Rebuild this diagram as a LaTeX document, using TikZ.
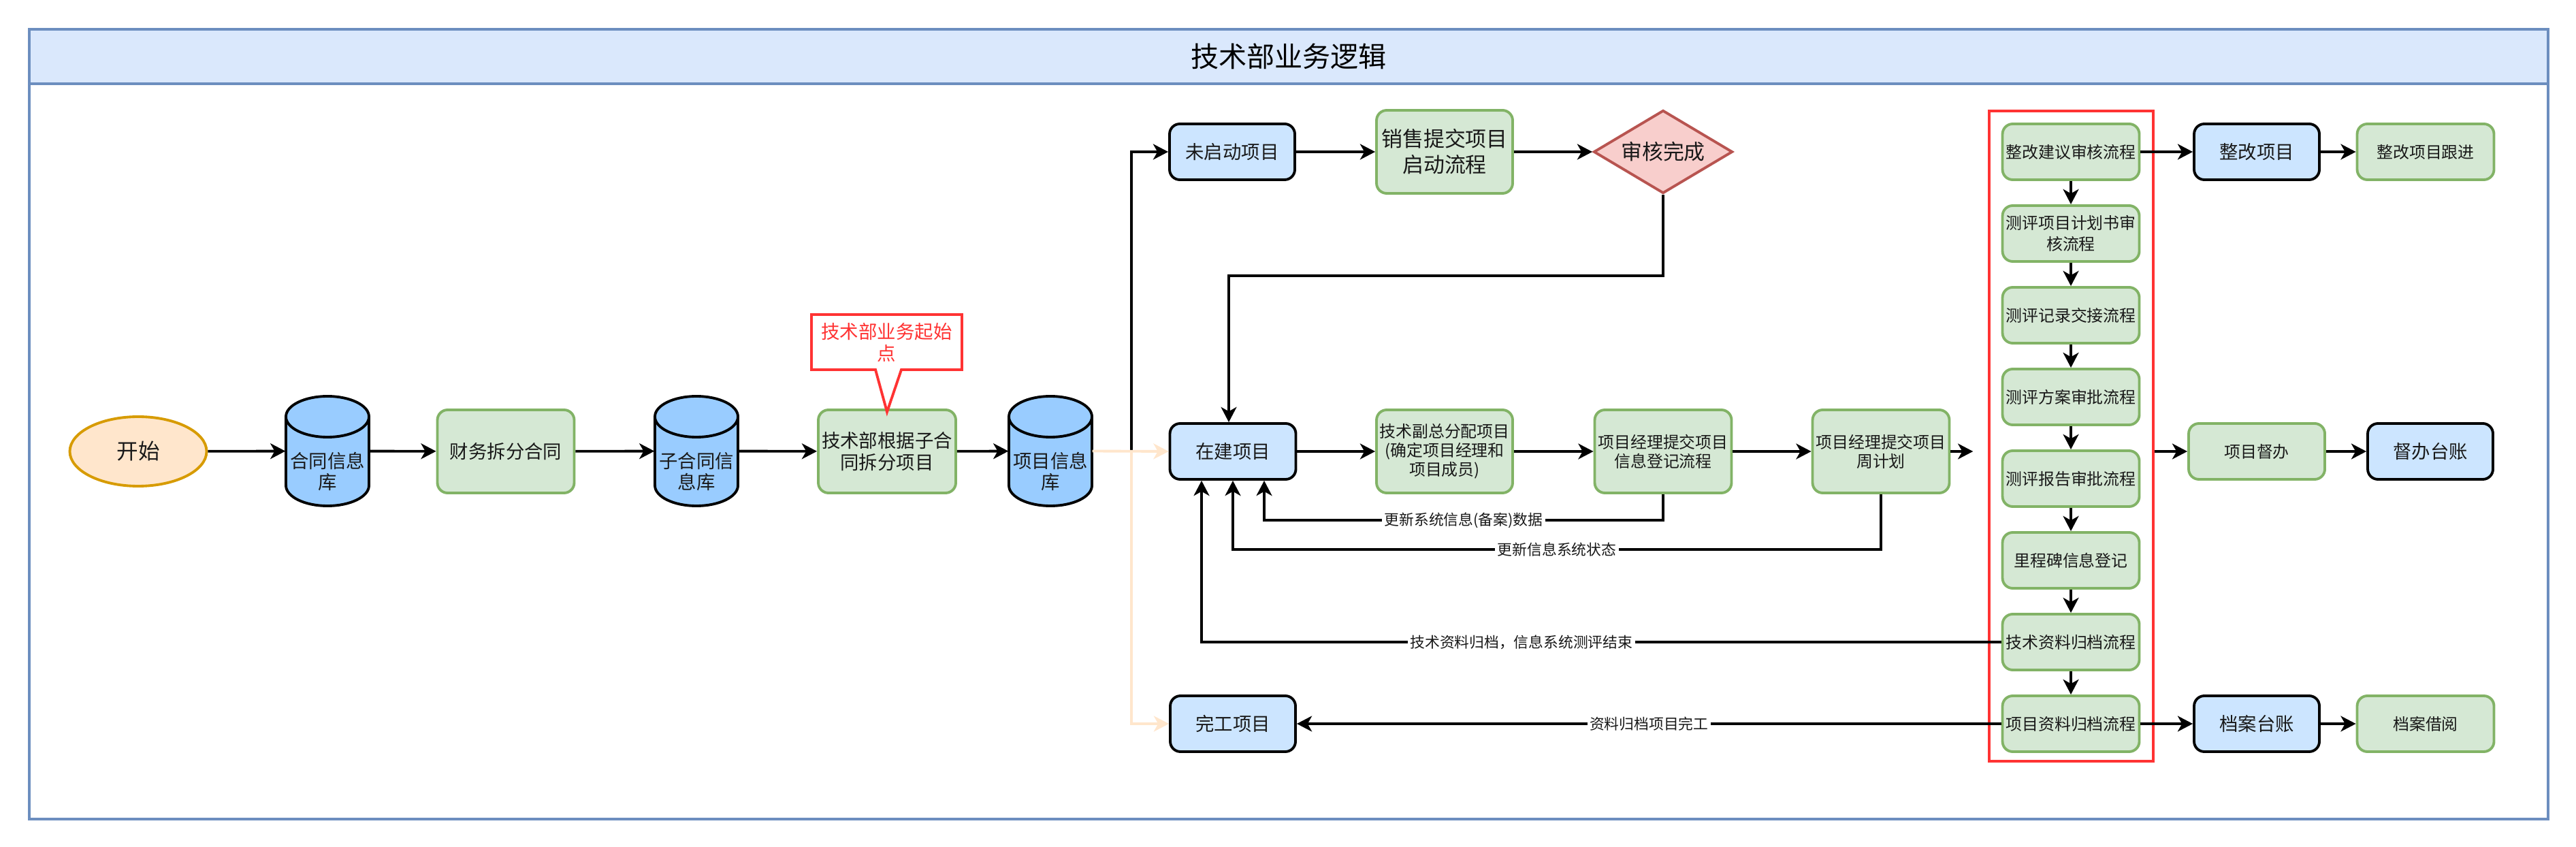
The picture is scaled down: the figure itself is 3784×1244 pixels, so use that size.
\documentclass[tikz,border=0pt]{standalone}
\usepackage{fontspec}
\setmainfont{Noto Sans CJK SC}
\usetikzlibrary{arrows.meta,shapes.geometric}
\definecolor{gfill}{HTML}{D5E8D4}
\definecolor{gline}{HTML}{82B366}
\definecolor{bfill}{HTML}{CCE5FF}
\definecolor{cylf}{HTML}{99CCFF}
\definecolor{ofill}{HTML}{FFE6CC}
\definecolor{oline}{HTML}{D79B00}
\definecolor{rfill}{HTML}{F8CECC}
\definecolor{rline}{HTML}{B85450}
\definecolor{redc}{HTML}{FF3333}
\definecolor{tfill}{HTML}{DAE8FC}
\definecolor{tline}{HTML}{6C8EBF}
\newcommand\sza{\fontsize{6.8pt}{8pt}\selectfont}
\newcommand\szb{\fontsize{7.8pt}{9pt}\selectfont}
\newcommand\szc{\fontsize{8.8pt}{10.8pt}\selectfont}
\newcommand\szl{\fontsize{6.2pt}{7pt}\selectfont}
\newcommand\szs{\fontsize{9pt}{11pt}\selectfont}
\newcommand\szt{\fontsize{11.7pt}{14pt}\selectfont}
\tikzset{
  proc/.style={rectangle, rounded corners=1.5mm, line width=1.1pt, inner sep=0pt, align=center, text=black!90},
  gbox/.style={proc, fill=gfill, draw=gline, minimum width=20.1mm, minimum height=8.2mm, font=\sza},
  gtall/.style={gbox, minimum height=12.2mm},
  bbox/.style={proc, fill=bfill, draw=black, minimum width=18.4mm, minimum height=8.2mm, font=\szb},
  conn/.style={line width=1.1pt, draw=black, -{Stealth[length=6.3pt,width=6.5pt,inset=1.8pt]}},
  oconn/.style={conn, draw=ofill},
  lbl/.style={fill=white, inner sep=1pt, font=\szl, text=black!90},
  cylline/.style={draw=black, line width=1.1pt},
}
\newcommand\dbcyl[4]{%
  \node[minimum width=12.2mm, minimum height=16.1mm, inner sep=0pt] (#1) at (#2,#3) {};
  \fill[cylf] (#2-61,#3-50.5) rectangle (#2+61,#3+50.5);
  \fill[cylf] (#2,#3+50.5) ellipse[x radius=6.1mm, y radius=3mm];
  \begin{scope}
    \clip (#2-70,#3+50.5) rectangle (#2+70,#3+95);
    \draw[cylline] (#2,#3+50.5) ellipse[x radius=6.1mm, y radius=3mm];
  \end{scope}
  \draw[cylline] (#2-61,#3-50.5) -- (#2-61,#3+50.5) (#2+61,#3-50.5) -- (#2+61,#3+50.5);
  \filldraw[fill=cylf, cylline] (#2,#3-50.5) ellipse[x radius=6.1mm, y radius=3mm];
  \node[font=\szb, align=center, text=black!90] at (#2,#3+30) {#4};
}
\begin{document}
\begin{tikzpicture}[x=0.1mm,y=-0.1mm]
\useasboundingbox (0,0) rectangle (3784,1244);
\fill[white] (0,0) rectangle (3784,1244);
% container
\draw[tline, line width=1.1pt] (43,43) rectangle (3743,1203);
\filldraw[fill=tfill, draw=tline, line width=1.1pt] (43,43) rectangle (3743,123);
\node[font=\szt] (title) at (1893,83) {技术部业务逻辑};

% red group frame
\node[draw=redc, line width=1pt, minimum width=24.1mm, minimum height=95.5mm, inner sep=0pt] (grp) at (3042.5,640.5) {};

% main row
\node[ellipse, fill=ofill, draw=oline, line width=1.1pt, minimum width=20.1mm, minimum height=10.2mm, inner sep=0pt, font=\szs, text=black!90] (start) at (203,663) {开始};
\dbcyl{db1}{481}{662.5}{合同信息\\库}
\node[gtall, font=\szb] (split) at (743,663) {财务拆分合同};
\dbcyl{db2}{1023}{662.5}{子合同信\\息库}
\node[gtall, minimum width=20.2mm, font=\szb] (tsplit) at (1303,663) {技术部根据子合\\同拆分项目};
\filldraw[fill=white, draw=redc, line width=1.1pt] (1192,462) -- (1413,462) -- (1413,543) -- (1324,543) -- (1303,605) -- (1286,543) -- (1192,543) -- cycle;
\node[font=\szb, text=redc, align=center] (callout) at (1302.5,503) {技术部业务起始\\点};
\dbcyl{db3}{1543}{662.5}{项目信息\\库}

\node[bbox] (notstart) at (1810,223) {未启动项目};
\node[gtall, minimum width=20mm, font=\szc] (sales) at (2122,223) {销售提交项目\\启动流程};
\node[diamond, aspect=1.67, fill=rfill, draw=rline, line width=1.1pt, minimum width=20.4mm, minimum height=12.2mm, inner sep=0pt, font=\szc, text=black!90] (audit) at (2443,223) {审核完成};

\node[bbox, minimum width=18.5mm] (building) at (1811,663) {在建项目};
\node[gtall, minimum width=20mm] (assign) at (2122,663) {技术副总分配项目\\(确定项目经理和\\项目成员)};
\node[gtall] (reg) at (2443,663) {项目经理提交项目\\信息登记流程};
\node[gtall] (weekly) at (2763,663) {项目经理提交项目\\周计划};
\node[bbox] (done) at (1811,1063) {完工项目};

% red column
\node[gbox] (c1) at (3042,223) {整改建议审核流程};
\node[gbox, font=\fontsize{6.8pt}{9pt}\selectfont] (c2) at (3042,343) {测评项目计划书审\\核流程};
\node[gbox] (c3) at (3042,463) {测评记录交接流程};
\node[gbox] (c4) at (3042,583) {测评方案审批流程};
\node[gbox] (c5) at (3042,703) {测评报告审批流程};
\node[gbox] (c6) at (3042,823) {里程碑信息登记};
\node[gbox] (c7) at (3042,943) {技术资料归档流程};
\node[gbox] (c8) at (3042,1063) {项目资料归档流程};

% right side
\node[bbox] (rect) at (3315,223) {整改项目};
\node[gbox] (rectf) at (3563,223) {整改项目跟进};
\node[gbox, minimum width=20mm] (sup) at (3315,663) {项目督办};
\node[bbox] (supl) at (3570,663) {督办台账};
\node[bbox] (arch) at (3315,1063) {档案台账};
\node[gbox] (borrow) at (3563,1063) {档案借阅};

% connectors
\draw[conn] (start) -- (db1);
\draw[conn] (db1) -- (split);
\draw[conn] (split) -- (db2);
\draw[conn] (db2) -- (tsplit);
\draw[conn] (tsplit) -- (db3);
\draw[conn] (db3.east) -- ++(57,0) |- (notstart.west);
\draw[oconn] (db3.east) -- (building.west);
\draw[oconn] (db3.east) -- ++(57,0) |- (done.west);
\draw[conn] (notstart) -- (sales);
\draw[conn] (sales) -- (audit);
\draw[conn] (audit.south) -- ++(0,119) -| ([xshift=-0.6mm]building.north);
\draw[conn] (building) -- (assign);
\draw[conn] (assign) -- (reg);
\draw[conn] (reg) -- (weekly);
\draw[conn, shorten >=2.2mm] (weekly.east) -- (weekly.east -| grp.west);
\draw[conn] (reg.south) -- ++(0,38) -| node[lbl,pos=0.25]{更新系统信息(备案)数据} ([xshift=4.6mm]building.south);
\draw[conn] (weekly.south) -- ++(0,81) -| node[lbl,pos=0.25]{更新信息系统状态} (building.south);
\draw[conn] (c7.west) -| node[lbl,pos=0.3]{技术资料归档，信息系统测评结束} ([xshift=-4.6mm]building.south);
\draw[conn] (c8.west) -- node[lbl]{资料归档项目完工} (done.east);
\draw[conn] (c1) -- (c2);
\draw[conn] (c2) -- (c3);
\draw[conn] (c3) -- (c4);
\draw[conn] (c4) -- (c5);
\draw[conn] (c5) -- (c6);
\draw[conn] (c6) -- (c7);
\draw[conn] (c7) -- (c8);
\draw[conn] (c1) -- (rect);
\draw[conn] (rect) -- (rectf);
\draw[conn] (grp.east |- sup.west) -- (sup.west);
\draw[conn] (sup) -- (supl);
\draw[conn] (c8) -- (arch);
\draw[conn] (arch) -- (borrow);
\end{tikzpicture}
\end{document}
